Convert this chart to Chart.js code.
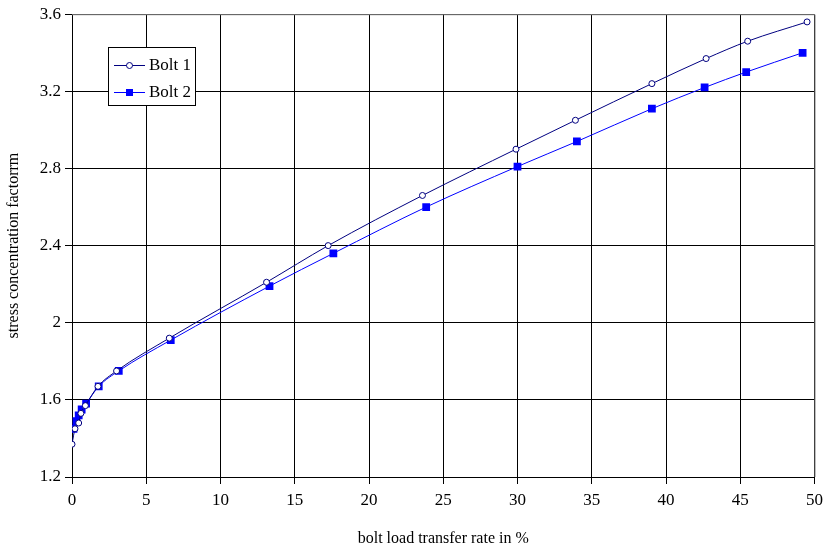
<!DOCTYPE html>
<html>
<head>
<meta charset="utf-8">
<script src="https://cdn.jsdelivr.net/npm/chart.js@4/dist/chart.umd.min.js"></script>
<style>
  html, body { margin: 0; padding: 0; background: #fff; }
  #wrap { width: 829px; height: 552px; }
</style>
</head>
<body>
<div id="wrap"><canvas id="chart" width="829" height="552"></canvas></div>
<script>
// bolt load transfer rate in % / stress concentration factor
const bolt1X = [0.0, 0.2, 0.45, 0.6, 0.9, 1.75, 3.0, 6.55, 13.1, 17.25, 23.6, 29.9, 33.9, 39.05, 42.7, 45.5, 49.5];
const bolt1Y = [1.37, 1.45, 1.48, 1.53, 1.57, 1.67, 1.75, 1.92, 2.21, 2.40, 2.66, 2.90, 3.05, 3.24, 3.37, 3.46, 3.56];
const bolt2X = [0.1, 0.3, 0.45, 0.65, 0.95, 1.8, 3.15, 6.65, 13.3, 17.6, 23.85, 30.0, 34.0, 39.05, 42.6, 45.4, 49.2];
const bolt2Y = [1.45, 1.49, 1.52, 1.55, 1.58, 1.67, 1.75, 1.91, 2.19, 2.36, 2.60, 2.81, 2.94, 3.11, 3.22, 3.30, 3.40];
const seriesNames = ["Bolt 1", "Bolt 2"];
const xTitle = "bolt load transfer rate in %";
const yTitle = "stress concentration factorrm";

const toPoints = (xs, ys) => xs.map((x, i) => ({ x: x, y: ys[i] }));

const serif = "'Liberation Serif', 'Times New Roman', serif";

// box legend + grey top/right frame, drawn on the canvas
const boxLegend = {
  id: "boxLegend",
  afterDraw(chart) {
    const ctx = chart.ctx;
    const a = chart.chartArea;
    ctx.save();
    ctx.strokeStyle = "#808080";
    ctx.lineWidth = 1;
    ctx.beginPath();
    ctx.moveTo(a.left, a.top + 0.5);
    ctx.lineTo(a.right + 0.5, a.top + 0.5);
    ctx.lineTo(a.right + 0.5, a.bottom);
    ctx.stroke();

    const bx = 108, by = 47, bw = 87, bh = 58;
    ctx.fillStyle = "#fff";
    ctx.fillRect(bx, by, bw, bh);
    ctx.strokeStyle = "#000";
    ctx.strokeRect(bx + 0.5, by + 0.5, bw, bh);

    chart.data.datasets.forEach((ds, i) => {
      const cy = by + 18 + i * 27;
      ctx.strokeStyle = ds.borderColor;
      ctx.lineWidth = 1;
      ctx.beginPath();
      ctx.moveTo(bx + 6, cy + 0.5);
      ctx.lineTo(bx + 37, cy + 0.5);
      ctx.stroke();
      if (ds.pointStyle === "rect") {
        ctx.fillStyle = ds.pointBackgroundColor;
        ctx.fillRect(bx + 18, cy - 3, 7, 7);
      } else {
        ctx.fillStyle = "#fff";
        ctx.strokeStyle = ds.pointBorderColor;
        ctx.beginPath();
        ctx.arc(bx + 21.5, cy + 0.5, 3, 0, Math.PI * 2);
        ctx.fill();
        ctx.stroke();
      }
      ctx.fillStyle = "#000";
      ctx.font = "17px " + serif;
      ctx.textBaseline = "middle";
      ctx.fillText(ds.label, bx + 41, cy + 1);
    });
    ctx.restore();
  },
};

try {
  const ctx = document.getElementById("chart");

  const data = {
    datasets: [
      {
        label: seriesNames[0],
        data: toPoints(bolt1X, bolt1Y),
        borderColor: "#000080",
        borderWidth: 1,
        pointStyle: "circle",
        pointRadius: 3,
        pointBackgroundColor: "#fff",
        pointBorderColor: "#000080",
        pointBorderWidth: 1,
        cubicInterpolationMode: "monotone",
        fill: false,
      },
      {
        label: seriesNames[1],
        data: toPoints(bolt2X, bolt2Y),
        borderColor: "#0000ff",
        borderWidth: 1,
        pointStyle: "rect",
        pointRadius: 5.5,
        pointBackgroundColor: "#0000ff",
        pointBorderColor: "#0000ff",
        pointBorderWidth: 0,
        cubicInterpolationMode: "monotone",
        fill: false,
      },
    ],
  };

  const options = {
    responsive: false,
    animation: false,
    layout: { padding: { top: 14, right: 12, left: 0, bottom: 0 } },
    plugins: {
      legend: { display: false },
      tooltip: { enabled: false },
    },
    scales: {
      x: {
        type: "linear",
        min: 0,
        max: 50,
        ticks: {
          stepSize: 5,
          color: "#000",
          font: { family: serif, size: 17 },
          padding: 6,
        },
        grid: { color: "#000", lineWidth: 1, tickLength: 7 },
        border: { color: "#000" },
        title: {
          display: true,
          text: xTitle,
          color: "#000",
          font: { family: serif, size: 16 },
          padding: { top: 14 },
        },
        afterFit: (scale) => { scale.height = 75; },
      },
      y: {
        type: "linear",
        min: 1.2,
        max: 3.6,
        ticks: {
          stepSize: 0.4,
          color: "#000",
          font: { family: serif, size: 17 },
          padding: 4,
          callback: (value) => Number(value.toFixed(1)).toString(),
        },
        grid: { color: "#000", lineWidth: 1, tickLength: 7 },
        border: { color: "#000" },
        title: {
          display: true,
          text: yTitle,
          color: "#000",
          font: { family: serif, size: 16 },
          padding: { bottom: 4 },
        },
        afterFit: (scale) => { scale.width = 72; },
      },
    },
  };

  new Chart(ctx, {
    type: "line",
    data: data,
    options: options,
    plugins: [boxLegend],
  });
} catch (e) {
  console.error("Chart initialization error:", e);
}
</script>
</body>
</html>
